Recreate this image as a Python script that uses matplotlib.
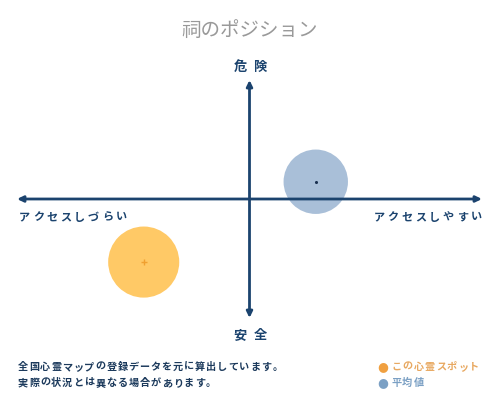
import matplotlib
matplotlib.use("Agg")
import matplotlib.pyplot as plt

plt.rcParams['font.family'] = ['Noto Sans CJK JP', 'DejaVu Sans']

# ---------------------------------------------------------------------
# Data
# ---------------------------------------------------------------------
title = "祠のポジション"
top_label = "危険"
bottom_label = "安全"
left_label = "アクセスしづらい"
right_label = "アクセスしやすい"

point_names = ["この心霊スポット", "平均値"]
point_x = [-0.455, 0.285]
point_y = [-0.53, 0.145]
point_size = [2620, 2150]
point_colors = ["#ffc966", "#a9bfd8"]
center_colors = ["#f0a030", "#1a3050"]
legend_colors = ["#f0a040", "#7ba0c4"]
legend_text_colors = ["#e8a860", "#7ba0c4"]

notes = ["全国心霊マップの登録データを元に算出しています。",
         "実際の状況とは異なる場合があります。"]

navy = "#1b436e"

# ---------------------------------------------------------------------
# Figure
# ---------------------------------------------------------------------
fig = plt.figure(figsize=(5, 4), dpi=100)
fig.patch.set_facecolor("white")

# axes spans arrow tips: x 17..482 px, y 80..318 px
ax = fig.add_axes([17 / 500, (400 - 318) / 400, (482 - 17) / 500, (318 - 80) / 400])
ax.set_xlim(-1, 1)
ax.set_ylim(-1, 1)
ax.axis("off")

def spaced(s, x, y, step, ha, **kw):
    """draw string char by char with extra letter spacing (figure fraction)"""
    n = len(s)
    if ha == "right":
        x0 = x - (n - 1) * step
    elif ha == "center":
        x0 = x - (n - 1) * step / 2
    else:
        x0 = x
    for i, ch in enumerate(s):
        fig.text(x0 + i * step, y, ch, ha="left" if ha == "left" else "center",
                 va="center", **kw)

# points (circles)
for xi, yi, si, c in zip(point_x, point_y, point_size, point_colors):
    ax.scatter(xi, yi, s=si, color=c, edgecolors="none", zorder=2)
ax.scatter(point_x[0], point_y[0], s=16, marker="+", color=center_colors[0], linewidths=1.0, zorder=3)
ax.scatter(point_x[1], point_y[1], s=1.5, color=center_colors[1], zorder=3)

# axes arrows
arrow_kw = dict(arrowstyle="<|-|>,head_length=0.35,head_width=0.17", color=navy, lw=2.0,
                shrinkA=0, shrinkB=0)
ax.annotate("", xy=(1, 0), xytext=(-1, 0), arrowprops=arrow_kw, zorder=4)
ax.annotate("", xy=(0, 1), xytext=(0, -1), arrowprops=arrow_kw, zorder=4)

# labels
fig.text(0.5, 1 - 30 / 400, title, ha="center", va="center", fontsize=14, color="#999999")
spaced(top_label, 0.5, 1 - 67 / 400, 20 / 500, "center",
       fontsize=9.5, fontweight="bold", color=navy)
spaced(bottom_label, 0.5, 1 - 335 / 400, 20 / 500, "center",
       fontsize=9.5, fontweight="bold", color=navy)

spaced(left_label, 19 / 500, 1 - 217 / 400, 13.8 / 500, "left",
       fontsize=8, fontweight="bold", color=navy)
spaced(right_label, 476 / 500, 1 - 217 / 400, 13.8 / 500, "right",
       fontsize=8, fontweight="bold", color=navy)

# footer notes
for i, line in enumerate(notes):
    spaced(line, 18 / 500, 1 - (367 + 16 * i) / 400, 11.05 / 500, "left",
           fontsize=7.3, fontweight="bold", color="#1c3a5c")

# legend
for i, (name, c, tc) in enumerate(zip(point_names, legend_colors, legend_text_colors)):
    yy = 1 - (367 + 16 * i) / 400
    fig.text(383 / 500, yy, "●", ha="center", va="center", fontsize=9, color=c,
             family=["DejaVu Sans"])
    spaced(name, 391 / 500, yy, 11.2 / 500, "left",
           fontsize=7.3, fontweight="bold", color=tc)

fig.savefig("out.png", dpi=100, facecolor="white")
